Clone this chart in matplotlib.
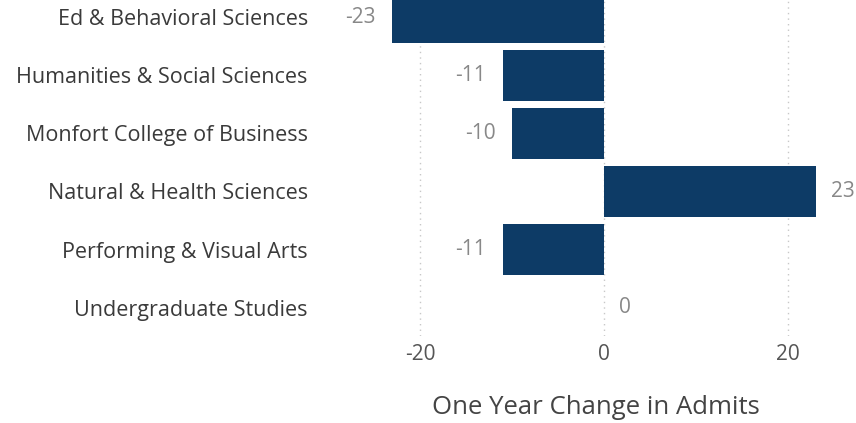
import numpy as np
import matplotlib.pyplot as plt

# data
colleges = ['Ed & Behavioral Sciences', 'Humanities & Social Sciences',
            'Monfort College of Business', 'Natural & Health Sciences',
            'Performing & Visual Arts', 'Undergraduate Studies']
change = [-23, -11, -10, 23, -11, 0]
xticks = [-20, 0, 20]

plt.rcParams['font.family'] = ['Open Sans', 'DejaVu Sans']

fig = plt.figure(figsize=(8.56, 4.23), dpi=100)
ax = fig.add_axes([0.444, 0.2057, 0.526, 0.7943])

y = np.arange(len(colleges))
ax.barh(y, change, height=0.88, color='#0d3b66', zorder=3)

ax.set_ylim(5.49, -0.30)
ax.set_xlim(-24.35, 24.57)
ax.set_xticks(xticks)
ax.set_xticklabels([str(t) for t in xticks])
ax.set_yticks(y)
ax.set_yticklabels(colleges)

ax.tick_params(axis='y', length=0, pad=52, labelsize=15.5, labelcolor='#3a3a3a')
ax.tick_params(axis='x', length=0, pad=6, labelsize=15, labelcolor='#555555')
for s in ax.spines.values():
    s.set_visible(False)
ax.grid(axis='x', color='#c8c8c8', linestyle=(0, (1, 3)), linewidth=1, zorder=0)

# data labels
for yi, v in zip(y, change):
    if v < 0:
        ax.annotate(str(v), (v, yi), xytext=(-12, 0), textcoords='offset points',
                    ha='right', va='center', fontsize=15, color='#888888')
    else:
        ax.annotate(str(v), (v, yi), xytext=(11, 0), textcoords='offset points',
                    ha='left', va='center', fontsize=15, color='#888888')

ax.set_xlabel('One Year Change in Admits', fontsize=18.5, color='#444444',
              fontweight='medium')
ax.xaxis.set_label_coords(0.48, -0.175)

fig.savefig('out.png', dpi=100)
